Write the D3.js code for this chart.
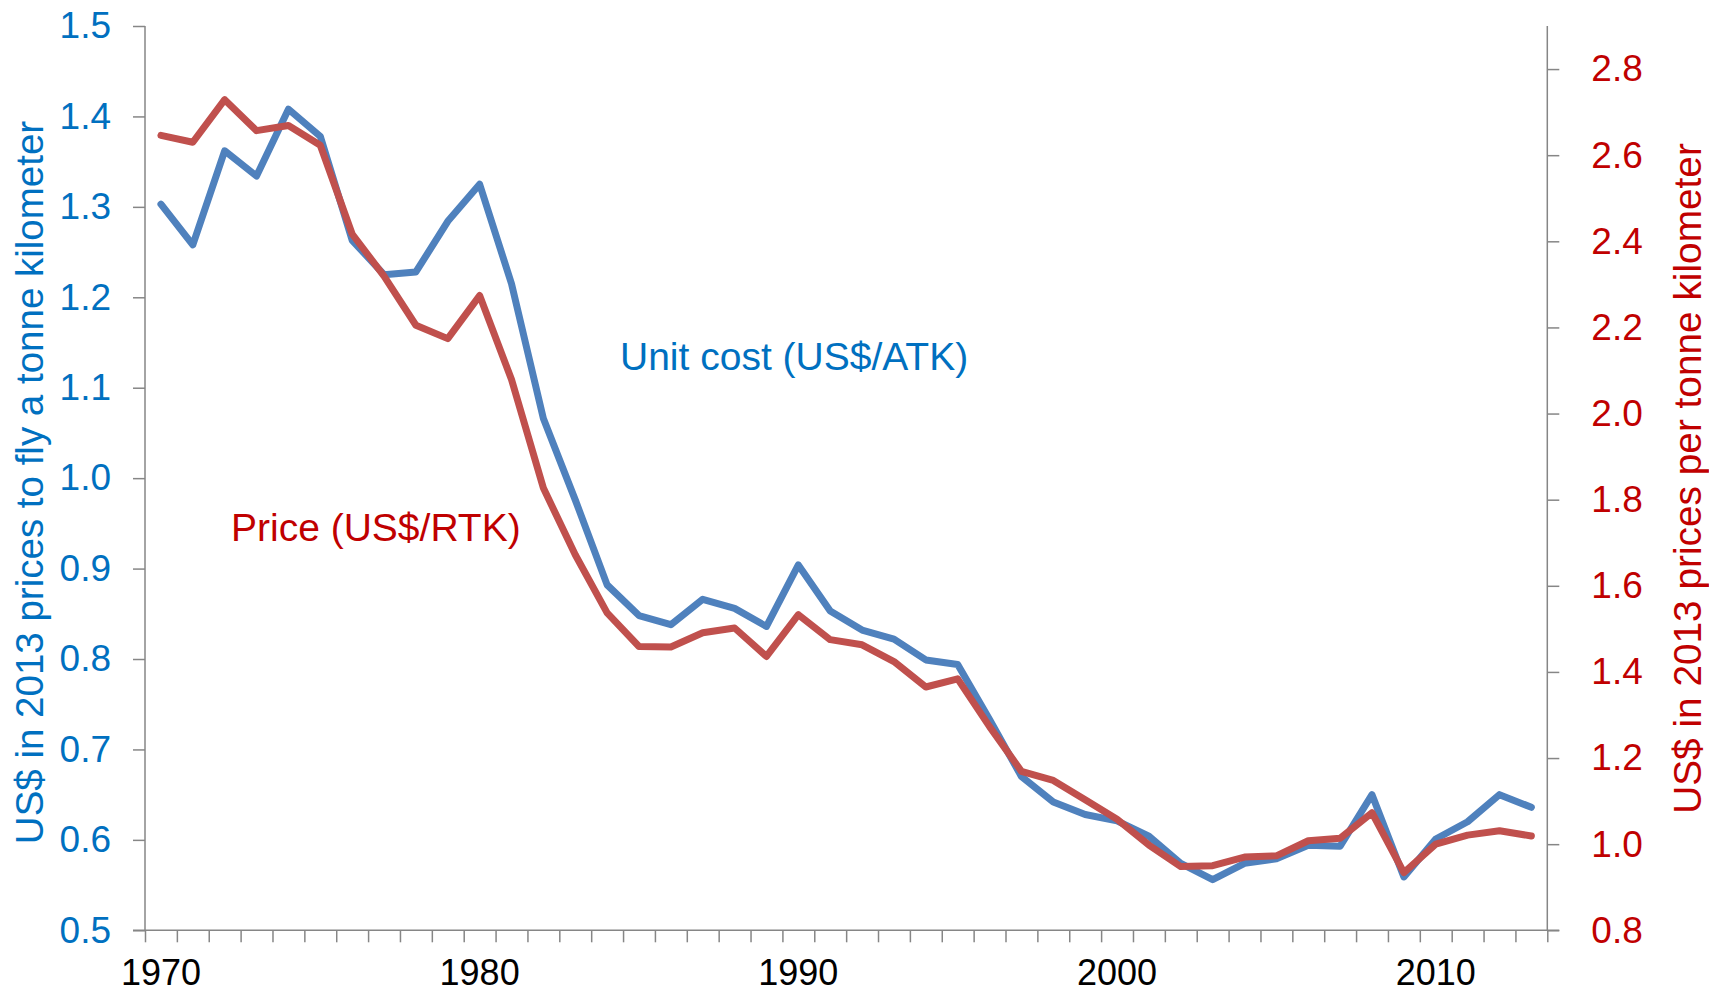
<!DOCTYPE html>
<html>
<head>
<meta charset="utf-8">
<script src="https://cdn.jsdelivr.net/npm/d3@7"></script>
<style>
	body { margin: 0; background: #fff; }
	svg text { font-family: "Liberation Sans", Arial, sans-serif; }
</style>
</head>
<body>
<div id="chart"></div>
<script>
// years 1970..2013
const years = d3.range(1970, 2014);

// unit cost, US$/ATK (left axis)
const unitCost = [
	1.303, 1.258, 1.362, 1.334, 1.408, 1.378, 1.263, 1.225, 1.228, 1.284,
	1.325, 1.215, 1.066, 0.976, 0.882, 0.848, 0.838, 0.866, 0.856, 0.836,
	0.904, 0.853, 0.832, 0.822, 0.799, 0.794, 0.733, 0.670, 0.642, 0.628,
	0.621, 0.604, 0.574, 0.556, 0.574, 0.579, 0.594, 0.593, 0.650, 0.559,
	0.601, 0.620, 0.650, 0.636
];

// price, US$/RTK (right axis)
const price = [
	2.646, 2.630, 2.729, 2.657, 2.669, 2.623, 2.417, 2.319, 2.205, 2.174,
	2.274, 2.079, 1.827, 1.672, 1.537, 1.459, 1.458, 1.491, 1.502, 1.436,
	1.533, 1.475, 1.463, 1.424, 1.365, 1.384, 1.273, 1.169, 1.148, 1.103,
	1.058, 0.998, 0.948, 0.950, 0.970, 0.973, 1.008, 1.014, 1.073, 0.934,
	1.000, 1.021, 1.031, 1.019
];

const leftTicks = [0.5, 0.6, 0.7, 0.8, 0.9, 1.0, 1.1, 1.2, 1.3, 1.4, 1.5];
const rightTicks = [0.8, 1.0, 1.2, 1.4, 1.6, 1.8, 2.0, 2.2, 2.4, 2.6, 2.8];
const xLabels = [1970, 1980, 1990, 2000, 2010];

const width = 1709, height = 993;
const plotLeft = 145, plotRight = 1547.3, plotTop = 26, plotBottom = 930.3;

const blue = "#4F81BD", red = "#C0504D";
const blueText = "#0070C0", redText = "#C00000";
const axisColor = "#868686";

const svg = d3.select("#chart").append("svg")
	.attr("width", width)
	.attr("height", height);

const x = d3.scaleBand().domain(years).range([plotLeft, plotRight]).padding(0);
const xEdge = d3.scaleLinear().domain([1970, 2014]).range([plotLeft, plotRight]);
const yLeft = d3.scaleLinear().domain([0.5, 1.5]).range([plotBottom, plotTop]);
const yRight = d3.scaleLinear().domain([0.8, 2.9]).range([plotBottom, plotTop]);

const cx = (d) => x(d) + x.bandwidth() / 2;

// left axis
const gLeft = svg.append("g")
	.attr("transform", `translate(${plotLeft},0)`)
	.call(d3.axisLeft(yLeft).tickValues(leftTicks).tickSize(12).tickSizeOuter(0)
		.tickPadding(22).tickFormat(d3.format(".1f")));
gLeft.select(".domain").remove();
gLeft.append("line").attr("y1", plotTop).attr("y2", plotBottom).attr("stroke", axisColor).attr("stroke-width", 1.5);
gLeft.selectAll(".tick line").attr("stroke", axisColor).attr("stroke-width", 1.5);
gLeft.selectAll(".tick text").attr("fill", blueText).style("font-size", "37px");

// right axis
const gRight = svg.append("g")
	.attr("transform", `translate(${plotRight},0)`)
	.call(d3.axisRight(yRight).tickValues(rightTicks).tickSize(12).tickSizeOuter(0)
		.tickPadding(32).tickFormat(d3.format(".1f")));
gRight.select(".domain").remove();
gRight.append("line").attr("y1", plotTop).attr("y2", plotBottom).attr("stroke", axisColor).attr("stroke-width", 1.5);
gRight.selectAll(".tick line").attr("stroke", axisColor).attr("stroke-width", 1.5);
gRight.selectAll(".tick text").attr("fill", redText).style("font-size", "37px");

// bottom axis: ticks at every category edge, labels every ten years
const gBottom = svg.append("g")
	.attr("transform", `translate(0,${plotBottom})`)
	.call(d3.axisBottom(xEdge).tickValues(d3.range(1970, 2015)).tickSize(12).tickSizeOuter(0).tickFormat(""));
gBottom.select(".domain").remove();
gBottom.selectAll(".tick line").attr("stroke", axisColor).attr("stroke-width", 1.5);
gBottom.append("line").attr("x1", plotLeft - 12).attr("x2", plotRight + 12)
	.attr("stroke", axisColor).attr("stroke-width", 1.5);
gBottom.selectAll(".xlabel")
	.data(xLabels)
	.enter()
	.append("text")
	.attr("class", "xlabel")
	.attr("x", (d) => cx(d))
	.attr("y", 54.5)
	.attr("text-anchor", "middle")
	.attr("fill", "#000")
	.style("font-size", "36px")
	.text((d) => d);

// lines
const lineLeft = d3.line().x((d, i) => cx(years[i])).y((d) => yLeft(d));
const lineRight = d3.line().x((d, i) => cx(years[i])).y((d) => yRight(d));

svg.append("path")
	.datum(unitCost)
	.attr("d", lineLeft)
	.attr("fill", "none")
	.attr("stroke", blue)
	.attr("stroke-width", 7)
	.attr("stroke-linejoin", "round")
	.attr("stroke-linecap", "round");

svg.append("path")
	.datum(price)
	.attr("d", lineRight)
	.attr("fill", "none")
	.attr("stroke", red)
	.attr("stroke-width", 7)
	.attr("stroke-linejoin", "round")
	.attr("stroke-linecap", "round");

// axis titles
svg.append("text")
	.attr("transform", "translate(43,482.5) rotate(-90)")
	.attr("text-anchor", "middle")
	.attr("fill", blueText)
	.style("font-size", "38.5px")
	.text("US$ in 2013 prices to fly a tonne kilometer");

svg.append("text")
	.attr("transform", "translate(1701,478.5) rotate(-90)")
	.attr("text-anchor", "middle")
	.attr("fill", redText)
	.style("font-size", "38.8px")
	.text("US$ in 2013 prices per tonne kilometer");

// series labels
svg.append("text")
	.attr("x", 620)
	.attr("y", 370)
	.attr("fill", blueText)
	.style("font-size", "39px")
	.text("Unit cost (US$/ATK)");

svg.append("text")
	.attr("x", 231)
	.attr("y", 540.5)
	.attr("fill", redText)
	.style("font-size", "39px")
	.text("Price (US$/RTK)");
</script>
</body>
</html>
